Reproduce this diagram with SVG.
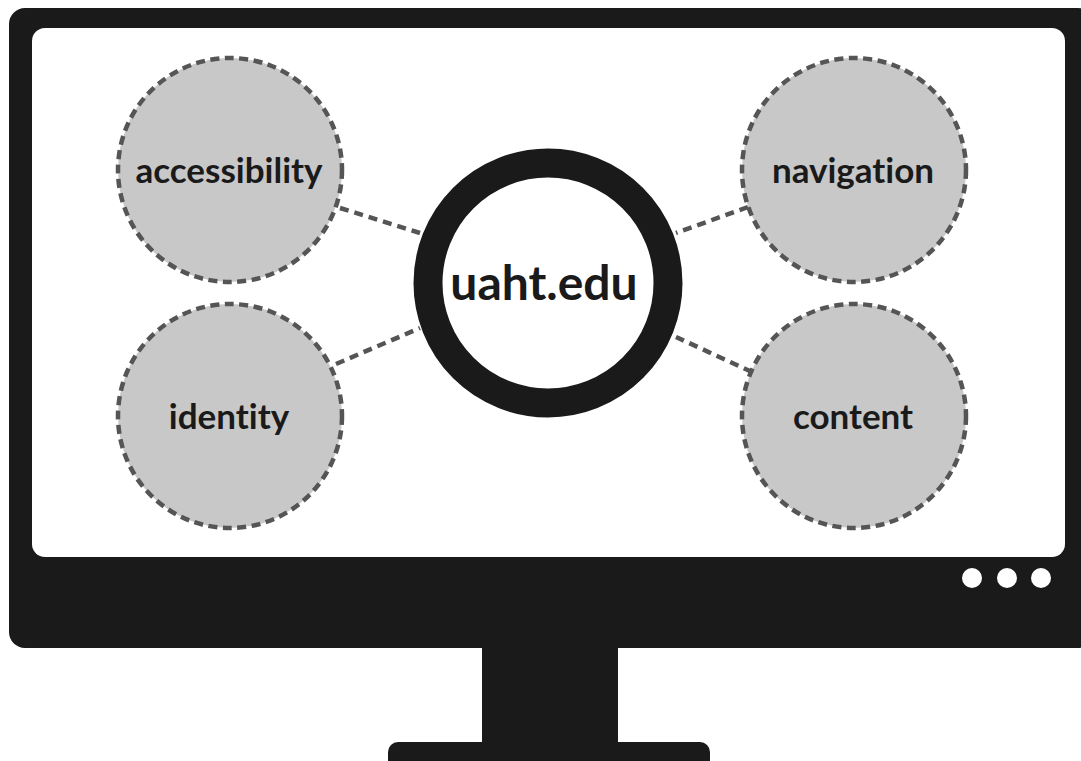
<svg xmlns="http://www.w3.org/2000/svg" width="1081" height="761" viewBox="0 0 1081 761">
  <style>
    .frame { fill: #1a1a1a; }
    .topic { fill: #c8c8c8; stroke: #555555; stroke-width: 4.5; stroke-dasharray: 9 5.5; }
    .link { stroke: #555555; stroke-width: 4.5; stroke-dasharray: 9 6; fill: none; }
    .label { font-family: Lato, "Open Sans", "Liberation Sans", sans-serif; font-weight: bold; fill: #1a1a1a; text-anchor: middle; font-variant-ligatures: none; }
  </style>

  <rect width="1081" height="761" fill="#ffffff"/>

  <!-- monitor -->
  <g id="monitor">
    <rect class="frame" x="388" y="742" width="322" height="30" rx="10"/>
    <rect class="frame" x="482" y="630" width="136" height="125"/>
    <rect class="frame" x="9" y="8" width="1085" height="640" rx="16"/>
    <rect x="32" y="28" width="1033" height="529" rx="13" fill="#ffffff"/>
    <g fill="#ffffff">
      <circle cx="972" cy="578" r="10"/>
      <circle cx="1007" cy="578" r="10"/>
      <circle cx="1041" cy="578" r="10"/>
    </g>
  </g>

  <!-- connectors -->
  <g id="connectors">
    <line class="link" x1="340" y1="208" x2="420" y2="233"/>
    <line class="link" x1="336" y1="364" x2="420" y2="328"/>
    <line class="link" x1="748" y1="207" x2="676" y2="233"/>
    <line class="link" x1="752" y1="372" x2="676" y2="337"/>
  </g>

  <g id="accessibility">
    <circle class="topic" cx="230" cy="170" r="112"/>
    <text class="label" x="229" y="183" font-size="35">accessibility</text>
  </g>
  <g id="identity">
    <circle class="topic" cx="230" cy="416" r="112"/>
    <text class="label" x="229" y="429" font-size="35">identity</text>
  </g>
  <g id="navigation">
    <circle class="topic" cx="854" cy="170" r="112"/>
    <text class="label" x="853" y="183" font-size="35">navigation</text>
  </g>
  <g id="content">
    <circle class="topic" cx="854" cy="416" r="112"/>
    <text class="label" x="853" y="429" font-size="35">content</text>
  </g>

  <g id="hub">
    <circle cx="548" cy="283" r="120" fill="#ffffff" stroke="#1a1a1a" stroke-width="29"/>
    <text class="label" x="544" y="300" font-size="48">uaht.edu</text>
  </g>
</svg>
